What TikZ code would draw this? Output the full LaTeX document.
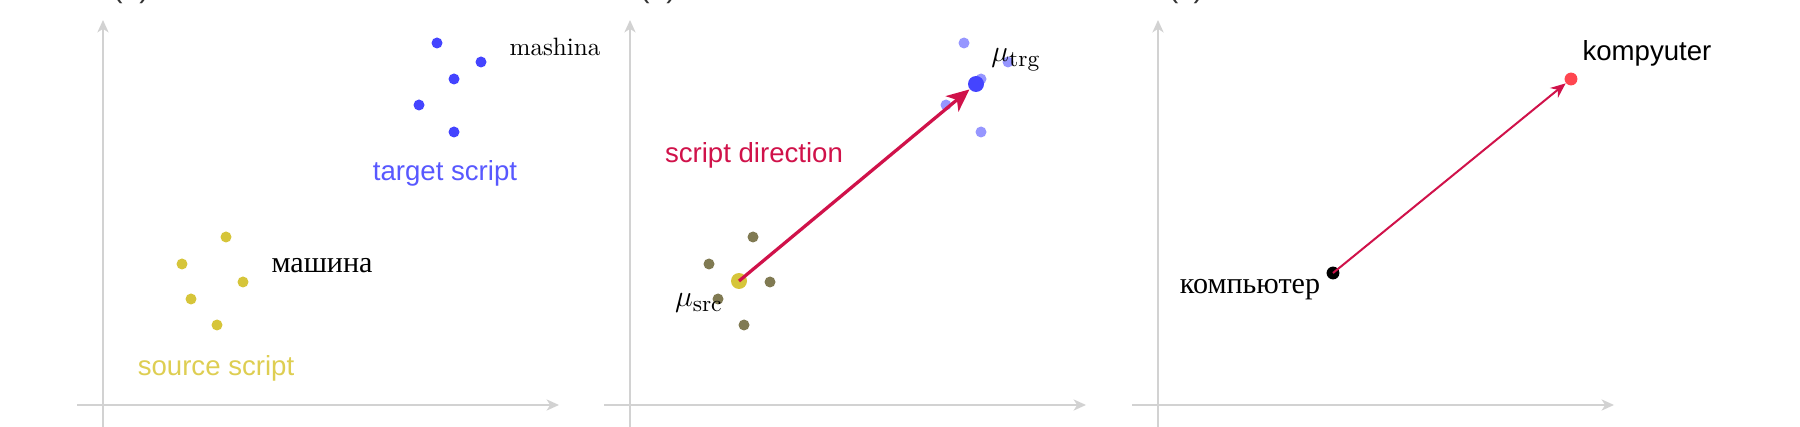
\documentclass[tikz,border=0pt]{standalone}
\usepackage{fontspec}
\usetikzlibrary{arrows.meta}
\newfontfamily\sansfont{Liberation Sans}
\newfontfamily\cyrfont{Liberation Serif}
\definecolor{trgblue}{RGB}{68,68,255}
\definecolor{trgtext}{RGB}{88,88,255}
\definecolor{trglight}{RGB}{150,150,255}
\definecolor{srcyellow}{RGB}{214,197,58}
\definecolor{srctext}{RGB}{222,206,82}
\definecolor{srcolive}{RGB}{128,122,82}
\definecolor{dircrimson}{RGB}{208,18,74}
\definecolor{wordred}{RGB}{255,70,80}
\begin{document}
\begin{tikzpicture}[x=0.014cm,y=-0.014cm]
\useasboundingbox (0,0) rectangle (1800,427);
\clip (0,0) rectangle (1800,427);
\tikzstyle{axis}=[draw=gray!35,line width=0.6pt,-{Stealth[length=5pt,width=4.5pt,inset=1.5pt]}]
\tikzstyle{point}=[circle,inner sep=0pt,minimum size=0.154cm]
\tikzstyle{mean}=[circle,inner sep=0pt,minimum size=0.224cm]
\tikzstyle{word}=[circle,inner sep=0pt,minimum size=0.18cm]
\tikzstyle{sans}=[font=\sansfont\fontsize{11}{13}\selectfont]
\tikzstyle{cyr}=[font=\cyrfont\fontsize{12}{14}\selectfont]
\tikzstyle{tag}=[anchor=base,font=\sansfont\fontsize{12}{14}\selectfont,text=black!80]
% (a) two scripts
\node (pa)[tag] at (131,-2) {(a)};
\coordinate (ax0) at (77,405); \coordinate (ax1) at (559,405);
\coordinate (ay0) at (103,440); \coordinate (ay1) at (103,20);
\draw[axis] (ax0) -- (ax1);
\draw[axis] (ay0) -- (ay1);
\node (t1)[point,fill=trgblue] at (437,43) {};
\node (t2)[point,fill=trgblue] at (481,62) {};
\node (t3)[point,fill=trgblue] at (454,79) {};
\node (t4)[point,fill=trgblue] at (419,105) {};
\node (t5)[point,fill=trgblue] at (454,132) {};
\node (s1)[point,fill=srcyellow] at (226,237) {};
\node (s2)[point,fill=srcyellow] at (182,264) {};
\node (s3)[point,fill=srcyellow] at (243,282) {};
\node (s4)[point,fill=srcyellow] at (191,299) {};
\node (s5)[point,fill=srcyellow] at (217,325) {};
\node (mashina) at (555,47) {mashina};
\node (mashinacyr)[cyr] at (322,266) {машина};
\node (trgname)[sans,text=trgtext] at (445,173) {target script};
\node (srcname)[sans,text=srctext] at (216,368) {source script};
% (b) script direction
\begin{scope}[shift={(527,0)}]
\node (pb)[tag] at (131,-2) {(b)};
\coordinate (bx0) at (77,405); \coordinate (bx1) at (559,405);
\coordinate (by0) at (103,440); \coordinate (by1) at (103,20);
\draw[axis] (bx0) -- (bx1);
\draw[axis] (by0) -- (by1);
\node (u1)[point,fill=trglight] at (437,43) {};
\node (u2)[point,fill=trglight] at (481,62) {};
\node (u3)[point,fill=trglight] at (454,79) {};
\node (u4)[point,fill=trglight] at (419,105) {};
\node (u5)[point,fill=trglight] at (454,132) {};
\node (o1)[point,fill=srcolive] at (226,237) {};
\node (o2)[point,fill=srcolive] at (182,264) {};
\node (o3)[point,fill=srcolive] at (243,282) {};
\node (o4)[point,fill=srcolive] at (191,299) {};
\node (o5)[point,fill=srcolive] at (217,325) {};
\node (msrc)[mean,fill=srcyellow] at (212,281) {};
\node (mtrg)[mean,fill=trgblue] at (449,84) {};
\draw[dircrimson,line width=1.3pt,-{Stealth[length=9pt,width=8pt,inset=2.5pt]}] (msrc.center) -- (mtrg);
\node (musrc)[font=\fontsize{13}{15}\selectfont] at (172,303) {$\mu_{\mathrm{src}}$};
\node (mutrg)[font=\fontsize{13}{15}\selectfont] at (489,60) {$\mu_{\mathrm{trg}}$};
\node (dirname)[sans,text=dircrimson] at (227,155) {script direction};
\end{scope}
% (c) transliteration
\begin{scope}[shift={(1055,0)}]
\node (pc)[tag] at (131,-2) {(c)};
\coordinate (cx0) at (77,405); \coordinate (cx1) at (559,405);
\coordinate (cy0) at (103,440); \coordinate (cy1) at (103,20);
\draw[axis] (cx0) -- (cx1);
\draw[axis] (cy0) -- (cy1);
\node (w1)[word,fill=black] at (278,273) {};
\node (w2)[word,fill=wordred] at (516,79) {};
\draw[dircrimson,line width=0.8pt,-{Stealth[length=6pt,width=5pt,inset=2pt]}] (w1.center) -- (w2);
\node (kompcyr)[cyr] at (195,290) {компьютер};
\node (komp)[sans] at (592,53) {kompyuter};
\end{scope}
\end{tikzpicture}
\end{document}
